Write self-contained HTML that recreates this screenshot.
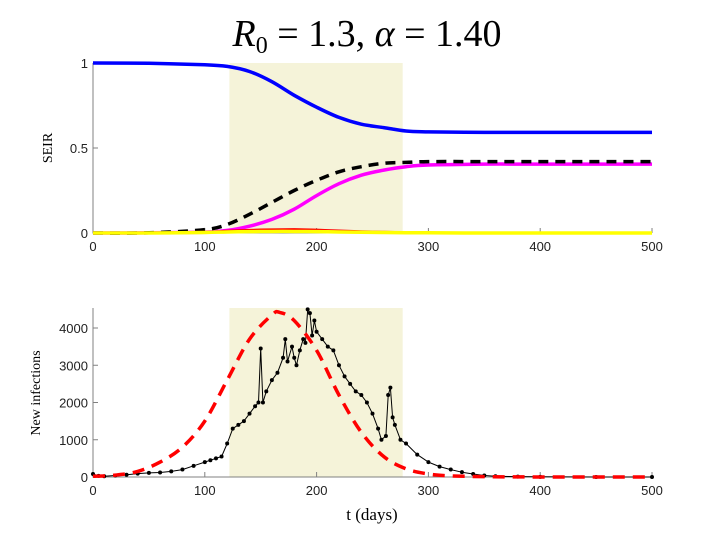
<!DOCTYPE html>
<html><head><meta charset="utf-8"><style>
html,body{margin:0;padding:0;background:#fff;}
svg{display:block;font-family:"Liberation Sans",sans-serif;}
</style></head><body>
<svg id="chart" width="721" height="541" viewBox="0 0 721 541">
<text x="367" y="46" text-anchor="middle" font-family="Liberation Serif,serif" font-size="38"><tspan font-style="italic">R</tspan><tspan font-size="24" dy="7">0</tspan><tspan dy="-7"> = 1.3, </tspan><tspan font-style="italic">α</tspan><tspan> = 1.40</tspan></text>
<g id="topPanel"></g>
<g id="botPanel"></g>
</svg>
<script>
// top panel data
const seirDays=[0,50,100,120,140,160,180,200,220,240,260,280,300,350,400,500];
const S=[1,0.998,0.99,0.98,0.95,0.89,0.81,0.74,0.68,0.64,0.62,0.60,0.595,0.592,0.592,0.592];
const Rtot=[0,0.001,0.02,0.05,0.11,0.18,0.25,0.31,0.36,0.39,0.41,0.415,0.42,0.42,0.42,0.42];
const Rm=[0,0.001,0.005,0.015,0.04,0.08,0.14,0.22,0.29,0.34,0.37,0.39,0.40,0.405,0.405,0.405];
const E=[0,0.001,0.006,0.012,0.017,0.02,0.021,0.018,0.013,0.009,0.006,0.003,0.002,0.001,0,0];
const I=[0,0,0.003,0.006,0.008,0.009,0.009,0.008,0.006,0.004,0.003,0.002,0.001,0,0,0];
const topYTicks=[0,0.5,1];
const topYLabels=["0","0.5","1"];
const xTicks=[0,100,200,300,400,500];
const shade=[122,277];
// bottom panel data
const obsDays=[0,5,10,20,30,40,50,60,70,80,90,100,105,110,115,120,125,130,135,140,145,148,150,152,155,160,165,170,172,174,178,180,182,185,188,190,192,194,196,198,200,205,210,215,220,225,230,235,240,245,250,255,258,262,264,266,268,270,275,280,290,300,310,320,330,340,350,360,380,400,450,500];
const obsVals=[80,30,20,40,60,90,110,120,150,200,300,400,450,500,550,900,1300,1400,1500,1700,1900,2000,3450,2000,2300,2600,2800,3200,3700,3100,3500,3200,3000,3400,3700,3600,4500,4400,3800,4200,3900,3700,3500,3400,3000,2700,2500,2300,2200,2000,1700,1300,1000,1100,2200,2400,1600,1400,1000,900,600,400,280,200,130,80,40,20,10,5,0,0];
const fitDays=[0,20,40,60,80,100,120,140,160,167,180,200,220,240,260,280,300,320,350,400,500];
const fitVals=[20,50,150,400,800,1500,2600,3700,4350,4420,4200,3400,2200,1200,550,220,80,30,10,0,0];
const botYTicks=[0,1000,2000,3000,4000];
const botYLabels=["0","1000","2000","3000","4000"];

const NS="http://www.w3.org/2000/svg";
function mk(p,t,a){const e=document.createElementNS(NS,t);for(const k in a)e.setAttribute(k,a[k]);p.appendChild(e);return e;}
const x0=93,x1=652;
const xs=d=>x0+d/500*(x1-x0);
const ty=v=>233-v*170;
const by=v=>477-v*0.03725;

function axes(g,yf,yt,yl,t0,b0){
  const sh=mk(g,'rect',{x:xs(shade[0]),y:t0,width:xs(shade[1])-xs(shade[0]),height:b0-t0,fill:'#f5f3d9'});
  
  
  const ax=mk(g,'path',{d:`M${x0},${t0}V${b0}H${x1}`,stroke:'#808080',fill:'none','stroke-width':1});
  
  
  xTicks.forEach(t=>{
    mk(g,'line',{x1:xs(t),x2:xs(t),y1:b0,y2:b0-5,stroke:'#808080'});
    const tx=mk(g,'text',{x:xs(t),y:b0+18,'text-anchor':'middle','font-size':13,fill:'#222'});
    tx.textContent=t;
    
    
  });
  yt.forEach((t,i)=>{
    mk(g,'line',{x1:x0,x2:x0+5,y1:yf(t),y2:yf(t),stroke:'#808080'});
    const tx=mk(g,'text',{x:x0-5,y:yf(t)+5,'text-anchor':'end','font-size':13,fill:'#222'});
    tx.textContent=yl[i];
    
    
  });
}
function line(g,xsArr,ys,yf,attrs,name,smooth){
  const P=xsArr.map((x,i)=>[xs(x),yf(ys[i])]);
  let d='M'+P[0][0].toFixed(1)+','+P[0][1].toFixed(1);
  for(let i=1;i<P.length;i++){
    if(smooth){
      const p0=P[Math.max(0,i-2)],p1=P[i-1],p2=P[i],p3=P[Math.min(P.length-1,i+1)];
      const c1=[p1[0]+(p2[0]-p0[0])/6,p1[1]+(p2[1]-p0[1])/6];
      const c2=[p2[0]-(p3[0]-p1[0])/6,p2[1]-(p3[1]-p1[1])/6];
      d+='C'+c1[0].toFixed(1)+','+c1[1].toFixed(1)+' '+c2[0].toFixed(1)+','+c2[1].toFixed(1)+' '+p2[0].toFixed(1)+','+p2[1].toFixed(1);
    } else d+='L'+P[i][0].toFixed(1)+','+P[i][1].toFixed(1);
  }
  const p=mk(g,'path',Object.assign({d:d,fill:'none','stroke-linejoin':'round'},attrs));
  
  
  return p;
}
const topG=document.getElementById('topPanel');
axes(topG,ty,topYTicks,topYLabels,63,233);
line(topG,seirDays,Rm,ty,{stroke:'#ff00ff','stroke-width':3.5},'recovered-line',true);
line(topG,seirDays,Rtot,ty,{stroke:'#000','stroke-width':3.5,'stroke-dasharray':'10,7'},'total-infected-line',true);
line(topG,seirDays,E,ty,{stroke:'#ff0000','stroke-width':2.5},'exposed-line',true);
line(topG,seirDays,I,ty,{stroke:'#ffff00','stroke-width':3.5},'infected-line',true);
line(topG,seirDays,S,ty,{stroke:'#0000ff','stroke-width':3.5},'susceptible-line',true);
const yl1=mk(topG,'text',{x:52,y:148,'text-anchor':'middle','font-size':14,'font-family':'Liberation Serif,serif',transform:'rotate(-90 52 148)'});
yl1.textContent='SEIR';



const botG=document.getElementById('botPanel');
axes(botG,by,botYTicks,botYLabels,308,477);
line(botG,obsDays,obsVals,by,{stroke:'#000','stroke-width':1},'observed-line',false);
obsDays.forEach((d,i)=>{
  const c=mk(botG,'circle',{cx:xs(d),cy:by(obsVals[i]),r:2,fill:'#000'});
  
  
});
line(botG,fitDays,fitVals,by,{stroke:'#ff0000','stroke-width':3.5,'stroke-dasharray':'12,8'},'model-fit-line',true);
const yl2=mk(botG,'text',{x:40,y:393,'text-anchor':'middle','font-size':14,'font-family':'Liberation Serif,serif',transform:'rotate(-90 40 393)'});
yl2.textContent='New infections';


const xl=mk(botG,'text',{x:372,y:520,'text-anchor':'middle','font-size':17,'font-family':'Liberation Serif,serif'});
xl.textContent='t (days)';


</script>
</body></html>
